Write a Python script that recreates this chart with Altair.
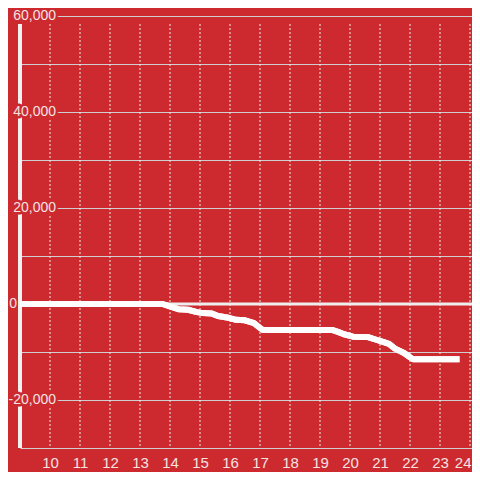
import altair as alt
import pandas as pd

# ---- data ----
hours = [9.0, 13.75, 14.0, 14.3, 14.6, 14.9, 15.1, 15.4, 15.6, 15.9, 16.2, 16.5,
         16.8, 17.0, 17.1, 19.4, 19.6, 19.8, 20.1, 20.6, 20.9, 21.1, 21.3, 21.5,
         21.8, 22.0, 22.1, 23.65]
values = [0, 0, -500, -1100, -1200, -1700, -1900, -2000, -2500, -2800, -3300, -3400,
          -4000, -5000, -5400, -5400, -5800, -6300, -6800, -6900, -7500, -7900, -8300,
          -9300, -10200, -11100, -11500, -11500]
x_ticks = list(range(10, 25))
y_grid = list(range(-30000, 60001, 10000))
y_label_values = [-20000, 0, 20000, 40000, 60000]
y_label_texts = ["-20,000", "0", "20,000", "40,000", "60,000"]

RED = "#cc2a2e"
LABEL = "#f3e3e3"
FONT = "Liberation Sans"

line_df = pd.DataFrame({"hour": hours, "value": values})
tick_df = pd.DataFrame({"t": x_ticks})
lab_df = pd.DataFrame({"v": y_label_values, "t": y_label_texts})
zero_df = pd.DataFrame({"z": [0]})

W, H = 452, 432
xscale = alt.Scale(domain=[9, 9 + W / 30], nice=False, zero=False)
yscale = alt.Scale(domain=[-30000, 60000], nice=False, zero=False)

xaxis = alt.Axis(values=x_ticks, grid=False, domain=False, ticks=False,
                 labelFontSize=15, labelFont=FONT, labelColor=LABEL,
                 labelPadding=7, title=None, labelFlush=3, labelFlushOffset=1)
yaxis = alt.Axis(values=y_grid, grid=True, gridColor="#cfcfcf", gridWidth=1,
                 labels=False, ticks=False, domain=False, title=None)

line = alt.Chart(line_df).mark_line(
    color="white", strokeWidth=6, strokeJoin="round", strokeCap="butt"
).encode(
    x=alt.X("hour:Q", scale=xscale, axis=xaxis),
    y=alt.Y("value:Q", scale=yscale, axis=yaxis),
)

vgrid = alt.Chart(tick_df).mark_rule(
    color="#eeeeee", strokeWidth=1, strokeDash=[2, 2]
).encode(
    x=alt.X("t:Q", scale=xscale, axis=xaxis),
    y=alt.value(8),
    y2=alt.value(H),
)

yaxis_line = alt.Chart(tick_df).mark_rule(color="#f2f2f2", strokeWidth=3).encode(
    x=alt.value(0), y=alt.value(8), y2=alt.value(H)
)


def labels(filter_expr, xpos, halo):
    if halo:
        kw = dict(fill=RED, stroke=RED, strokeWidth=5, strokeJoin="round")
    else:
        kw = dict(color=LABEL)
    return alt.Chart(lab_df).transform_filter(filter_expr).mark_text(
        align="right", baseline="middle", font=FONT, fontSize=14, **kw
    ).encode(
        x=alt.value(xpos),
        y=alt.Y("v:Q", scale=yscale, axis=yaxis),
        text="t:N",
    )


zero_rule = alt.Chart(zero_df).mark_rule(color="#eeeeee", strokeWidth=3).encode(
    y=alt.Y("z:Q", scale=yscale, axis=yaxis),
    x=alt.value(-1),
    x2=alt.value("width"),
)

chart = alt.layer(
    line,
    vgrid,
    yaxis_line,
    labels("datum.v != 0", 36, True),
    labels("datum.v != 0", 36, False),
    labels("datum.v == 0", -3, False),
    zero_rule,
    line,
).properties(
    width=W, height=H,
    autosize=alt.AutoSizeParams(type="none"),
    padding={"left": 12, "top": 8, "right": 0, "bottom": 24},
).configure(background=RED).configure_view(stroke=None)

chart.save("out.html", embed_options={"renderer": "svg", "actions": False})
